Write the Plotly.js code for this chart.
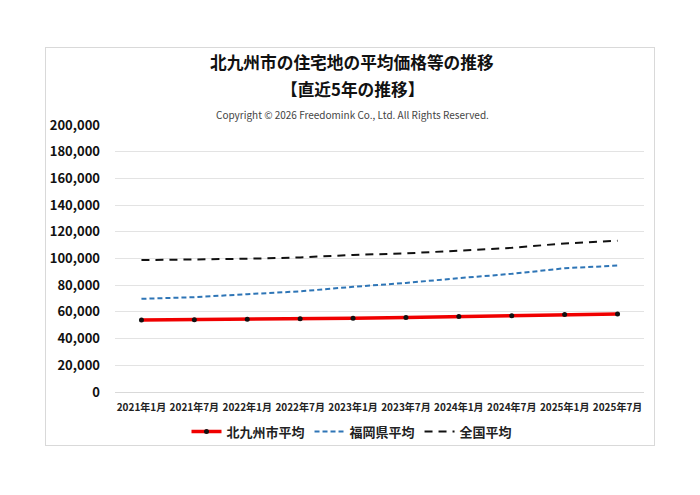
<!DOCTYPE html>
<html>
<head>
<meta charset="utf-8">
<script src="https://cdn.plot.ly/plotly-3.0.1.min.js"></script>
<style>
html,body{margin:0;padding:0;background:#fff;}
#wrap{position:relative;width:700px;height:495px;}
#chart{width:700px;height:495px;}
#frame{position:absolute;left:45px;top:47px;width:608px;height:397px;border:1px solid #d9d9d9;pointer-events:none;}
</style>
</head>
<body>
<div id="wrap"><div id="chart"></div><div id="frame"></div></div>
<script>
const categories = ["2021年1月","2021年7月","2022年1月","2022年7月","2023年1月","2023年7月","2024年1月","2024年7月","2025年1月","2025年7月"];
const kitakyushu = [54000, 54200, 54500, 54900, 55300, 55800, 56500, 57100, 58000, 58500];
const fukuoka = [69800, 71000, 73300, 75400, 78800, 81700, 85300, 88500, 92700, 94700];
const zenkoku = [98800, 99100, 99800, 100800, 102700, 103800, 106000, 108000, 111300, 113300];
const seriesNames = ["北九州市平均","福岡県平均","全国平均"];
const yTicks = [0,20000,40000,60000,80000,100000,120000,140000,160000,180000,200000];

const FONT = '"Noto Sans CJK JP", "Noto Sans", sans-serif';
const CX = (352 - 115) / 529;

const traces = [
  {x: categories, y: kitakyushu, name: seriesNames[0], type: 'scatter', mode: 'lines+markers',
   line: {color: '#f00000', width: 3.5}, marker: {color: '#111', size: 5}},
  {x: categories, y: fukuoka, name: seriesNames[1], type: 'scatter', mode: 'lines',
   line: {color: '#2e75b6', width: 2, dash: '5px,3px'}},
  {x: categories, y: zenkoku, name: seriesNames[2], type: 'scatter', mode: 'lines',
   line: {color: '#111', width: 2, dash: '8px,6px'}}
];

const layout = {
  width: 700, height: 495,
  margin: {l: 115, r: 56, t: 125, b: 103},
  paper_bgcolor: '#fff', plot_bgcolor: '#fff',
  font: {family: FONT, color: '#222'},
  showlegend: true,
  legend: {orientation: 'h', x: CX, xanchor: 'center', y: -0.148, yanchor: 'middle',
    font: {size: 13, family: FONT, color: '#222', weight: 'bold'}, itemwidth: 30, traceorder: 'normal'},
  xaxis: {type: 'category', range: [-0.5, 9.5], showgrid: false, zeroline: false, showline: false,
    ticklabelstandoff: 8,
    tickfont: {size: 10, family: FONT, color: '#222', weight: 'bold'}, ticks: '', fixedrange: true},
  yaxis: {range: [0, 200000], tickvals: yTicks, tickformat: ',d', showgrid: true, gridcolor: '#e3e3e3', gridwidth: 1,
    zeroline: true, zerolinecolor: '#d9d9d9', zerolinewidth: 1, showline: false, ticks: '',
    ticklabelstandoff: 14,
    tickfont: {size: 13, family: FONT, color: '#111', weight: 'bold'}},
  annotations: [
    {text: '<b>北九州市の住宅地の平均価格等の推移</b>', xref: 'paper', yref: 'paper', x: CX, y: 1, yshift: 63, xanchor: 'center', yanchor: 'middle',
     showarrow: false, font: {size: 16.7, family: FONT, color: '#111'}},
    {text: '<b>【直近5年の推移】</b>', xref: 'paper', yref: 'paper', x: CX, y: 1, yshift: 36, xanchor: 'center', yanchor: 'middle',
     showarrow: false, font: {size: 16.7, family: FONT, color: '#111'}},
    {text: 'Copyright © 2026 Freedomink Co., Ltd. All Rights Reserved.', xref: 'paper', yref: 'paper', x: CX, y: 1, yshift: 11, xanchor: 'center', yanchor: 'middle',
     showarrow: false, font: {size: 10, family: FONT, color: '#444'}}
  ]
};

Plotly.newPlot('chart', traces, layout, {displayModeBar: false, staticPlot: true});
</script>
</body>
</html>
